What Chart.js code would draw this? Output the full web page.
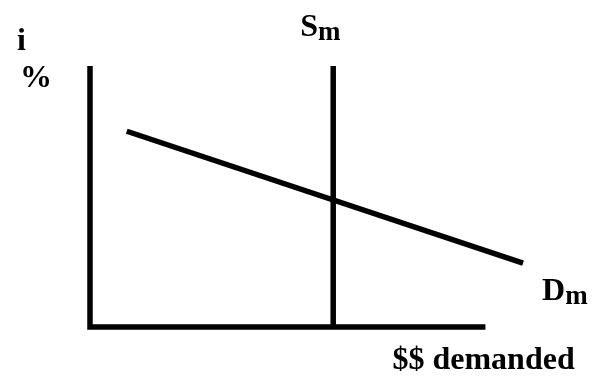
<!DOCTYPE html>
<html>
<head>
<meta charset="utf-8">
<script src="https://cdn.jsdelivr.net/npm/chart.js@4"></script>
<style>
    html, body { margin: 0; padding: 0; background: #fff; }
    #wrap { width: 605px; height: 381px; position: relative; }
</style>
</head>
<body>
<div id="wrap"><canvas id="moneyChart"></canvas></div>
<script>
// Money market: supply (vertical) and demand (downward sloping)
const axisQty = [0, 0, 10];
const axisRate = [10, 0, 0];
const supplyQty = [6.15, 6.15];
const supplyRate = [0, 10];
const demandQty = [0.93, 10.95];
const demandRate = [7.5, 2.45];

const yLabel = ["i", "%"];
const supplyLabel = ["S", "m"];
const demandLabel = ["D", "m"];
const xLabel = "$$ demanded";

const toPoints = (xs, ys) => xs.map((v, i) => ({ x: v, y: ys[i] }));

const lineStyle = {
    showLine: true,
    borderColor: '#000',
    borderWidth: 5.5,
    borderCapStyle: 'butt',
    borderJoinStyle: 'miter',
    pointRadius: 0,
    tension: 0,
    clip: false
};

const ctx = document.getElementById('moneyChart').getContext('2d');

new Chart(ctx, {
    type: 'scatter',
    data: {
        datasets: [
            { ...lineStyle, label: 'axes', data: toPoints(axisQty, axisRate) },
            { ...lineStyle, label: 'Sm', data: toPoints(supplyQty, supplyRate) },
            { ...lineStyle, label: 'Dm', data: toPoints(demandQty, demandRate) }
        ]
    },
    options: {
        responsive: true,
        maintainAspectRatio: false,
        animation: false,
        layout: { padding: { left: 90, right: 80, top: 66, bottom: 54 } },
        scales: {
            x: { type: 'linear', min: 0, max: 11, display: false },
            y: { type: 'linear', min: 0, max: 10, display: false }
        },
        plugins: {
            legend: { display: false },
            tooltip: { enabled: false }
        }
    },
    plugins: [{
        id: 'textLabels',
        afterDraw(chart) {
            const { ctx, scales: { x, y } } = chart;
            const big = 'bold 32px "Liberation Serif"';
            const small = 'bold 27px "Liberation Serif"';

            // main letter plus a lowered subscript
            const withSub = (pair, px, py) => {
                ctx.font = big;
                ctx.fillText(pair[0], px, py);
                const w = ctx.measureText(pair[0]).width;
                ctx.font = small;
                ctx.fillText(pair[1], px + w, py + 4);
            };

            ctx.save();
            ctx.fillStyle = '#000';
            ctx.textAlign = 'left';
            ctx.textBaseline = 'alphabetic';

            const left = x.getPixelForValue(0);
            const top = y.getPixelForValue(10);
            ctx.font = big;
            ctx.fillText(yLabel[0], left - 73, top - 16);
            ctx.fillText(yLabel[1], left - 70, top + 21);

            withSub(supplyLabel, x.getPixelForValue(supplyQty[0]) - 33, top - 30);

            const dEnd = demandQty.length - 1;
            withSub(demandLabel, x.getPixelForValue(demandQty[dEnd]) + 19,
                y.getPixelForValue(demandRate[dEnd]) + 37);

            ctx.font = big;
            ctx.fillText(xLabel, x.getPixelForValue(10) - 93, y.getPixelForValue(0) + 42);
            ctx.restore();
        }
    }]
});
</script>
</body>
</html>
